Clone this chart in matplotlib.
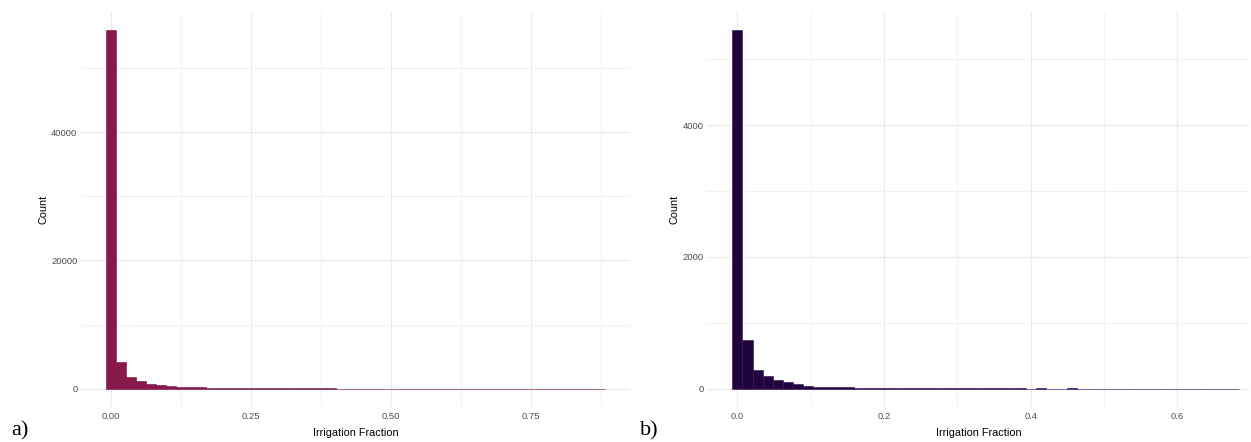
import numpy as np
import matplotlib
matplotlib.use("Agg")
import matplotlib.pyplot as plt
from matplotlib.ticker import FixedLocator

plt.rcParams['font.family'] = ['Liberation Sans', 'DejaVu Sans']

# ── Data (histogram counts, 50 bins each) ───────────────────────────────────
a_max = 0.874
a_counts = [56000, 4100, 1800, 1150, 800, 520, 380, 310, 240, 200,
            170, 150, 130, 110, 95, 85, 75, 70, 62, 55,
            50, 45, 42, 38, 35, 32, 30, 28, 26, 24,
            22, 21, 20, 19, 18, 17, 16, 15, 14, 14,
            13, 12, 12, 11, 11, 10, 10, 9, 9, 12]

b_max = 0.677
b_counts = [5450, 740, 290, 190, 140, 98, 70, 48, 33, 28,
            28, 28, 12, 15, 15, 14, 12, 10, 10, 8,
            8, 7, 6, 6, 5, 5, 4, 4, 5, 3,
            4, 3, 3, 4, 3, 2, 3, 2, 2, 3,
            2, 2, 3, 2, 2, 2, 3, 2, 2, 3]

a_xticks = [0.0, 0.25, 0.50, 0.75]
a_xlabels = ["0.00", "0.25", "0.50", "0.75"]
a_yticks = [0, 20000, 40000]
b_xticks = [0.0, 0.2, 0.4, 0.6]
b_xlabels = ["0.0", "0.2", "0.4", "0.6"]
b_yticks = [0, 2000, 4000]

W, H = 1251, 442
fig = plt.figure(figsize=(W / 100, H / 100), dpi=100)


def draw_panel(rect, vmax, counts, color, edge, xticks, xlabels, yticks,
               xminor, yminor, xright=None):
    ax = fig.add_axes(rect)
    n = len(counts)
    w = vmax / (n - 1)
    edges = np.linspace(-w / 2, vmax + w / 2, n + 1)
    ax.bar(edges[:-1], counts, width=w, align='edge', color=color,
           edgecolor=edge, linewidth=0.4, zorder=3)

    span = edges[-1] - edges[0]
    lo = edges[0] - 0.05 * span
    hi = edges[-1] + 0.05 * span if xright is None else xright
    ax.set_xlim(lo, hi)
    top = max(counts)
    ax.set_ylim(-0.05 * top, 1.05 * top)

    ax.set_xticks(xticks)
    ax.set_xticklabels(xlabels)
    ax.set_yticks(yticks)
    ax.set_yticklabels([str(v) for v in yticks])
    ax.xaxis.set_minor_locator(FixedLocator(xminor))
    ax.yaxis.set_minor_locator(FixedLocator(yminor))

    ax.grid(which='major', color='#EBEBEB', linewidth=0.9, zorder=0)
    ax.grid(which='minor', color='#F0F0F0', linewidth=0.6, zorder=0)
    ax.set_axisbelow(True)
    for s in ax.spines.values():
        s.set_visible(False)
    ax.tick_params(which='both', length=0, labelsize=6.8,
                   labelcolor='#4D4D4D')
    ax.tick_params(axis='y', pad=2.5)
    ax.tick_params(axis='x', pad=3.5)
    ax.set_xlabel("Irrigation Fraction", fontsize=7.8, color='black',
                  labelpad=5.5)
    ax.set_ylabel("Count", fontsize=7.8, color='black', labelpad=2)
    return ax


ax_a = draw_panel([81 / W, (H - 406.7) / H, (630 - 81) / W, 395 / H],
                  a_max, a_counts, '#8A184B', '#6E1240',
                  a_xticks, a_xlabels, a_yticks,
                  [0.125, 0.375, 0.625, 0.875], [10000, 30000, 50000])

ax_b = draw_panel([707 / W, (H - 406.7) / H, (1250 - 707) / W, 395 / H],
                  b_max, b_counts, '#20053D', '#2E0A55',
                  b_xticks, b_xlabels, b_yticks,
                  [0.1, 0.3, 0.5], [1000, 3000, 5000], xright=0.699)

fig.text(11 / W, 1 - 431 / H, "a)", fontsize=16, family='Liberation Serif',
         va='center', ha='left')
fig.text(640 / W, 1 - 431 / H, "b)", fontsize=16, family='Liberation Serif',
         va='center', ha='left')

fig.savefig("out.png", dpi=100, facecolor='white')
